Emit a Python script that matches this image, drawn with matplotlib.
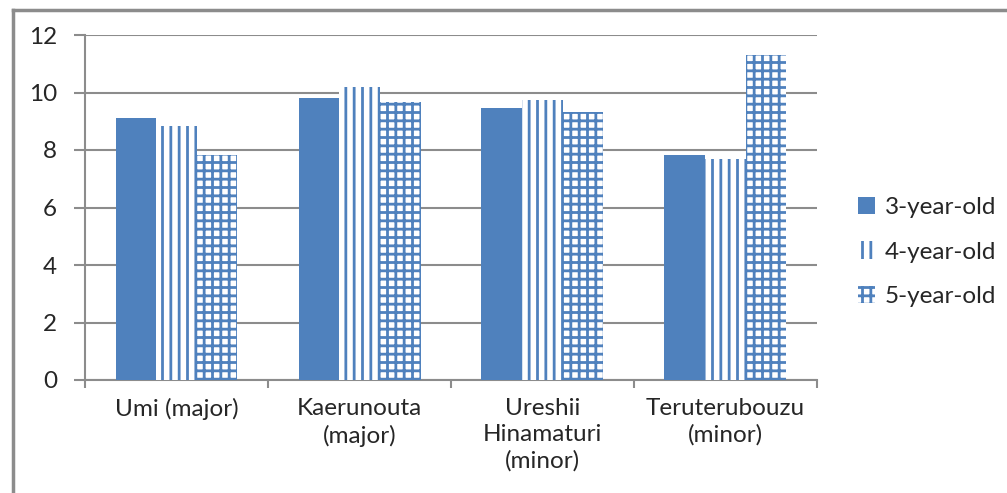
import numpy as np
import matplotlib.pyplot as plt
from matplotlib.lines import Line2D

plt.rcParams['font.family'] = ['Lato', 'DejaVu Sans']
plt.rcParams['hatch.linewidth'] = 2.0

categories = ['Umi (major)', 'Kaerunouta\n(major)', 'Ureshii\nHinamaturi\n(minor)', 'Teruterubouzu\n(minor)']
series = ['3-year-old', '4-year-old', '5-year-old']
age3 = [9.12, 9.80, 9.47, 7.83]
age4 = [8.82, 10.18, 9.74, 7.70]
age5 = [7.82, 9.68, 9.32, 11.30]

blue = '#4F81BD'
gray = '#8C8C8C'
txt = '#262626'
fs = 17.5

fig = plt.figure(figsize=(10.07, 4.93), dpi=100)
ax = fig.add_axes([85/1007, 1-380/493, (817-85)/1007, (380-35)/493])

x = np.arange(len(categories))
w = 1/4.5
ax.bar(x - w, age3, w, color=blue, edgecolor=blue, linewidth=0, label=series[0], zorder=3)
ax.bar(x, age4, w, color='white', edgecolor=blue, hatch='||', linewidth=0, label=series[1], zorder=3)
ax.bar(x + w, age5, w, color='white', edgecolor=blue, hatch='++', linewidth=0, label=series[2], zorder=3)

ax.set_xlim(-0.5, 3.5)
ax.set_ylim(0, 12)
ax.set_yticks(range(0, 13, 2))
ax.yaxis.grid(True, color=gray, linewidth=1.5, zorder=0)
ax.set_axisbelow(True)
for s in ['top', 'right']:
    ax.spines[s].set_visible(False)
for s in ['left', 'bottom']:
    ax.spines[s].set_color(gray)
    ax.spines[s].set_linewidth(1.5)

ax.set_xticks(np.arange(-0.5, 4.0, 1.0))
ax.set_xticklabels([])
ax.set_xticks(x, minor=True)
ax.set_xticklabels(categories, minor=True, fontsize=fs, color=txt, va='top', linespacing=1.3)
ax.tick_params(axis='x', which='major', length=6, width=1.5, color=gray, direction='out')
ax.tick_params(axis='x', which='minor', length=0, pad=13)
ax.tick_params(axis='y', length=8, width=1.5, color=gray, direction='out', labelsize=fs, labelcolor=txt, pad=12)

handles = [
    plt.Rectangle((0, 0), 1, 1, facecolor=blue, edgecolor=blue, linewidth=0),
    plt.Rectangle((0, 0), 1, 1, facecolor='white', edgecolor=blue, hatch='||', linewidth=0),
    plt.Rectangle((0, 0), 1, 1, facecolor='white', edgecolor=blue, hatch='++', linewidth=0),
]
fig.legend(handles, series, loc='center left', bbox_to_anchor=(836/1007, 1-252/493),
           frameon=False, fontsize=fs, labelcolor=txt, handlelength=0.7, handleheight=0.7,
           handletextpad=0.4, labelspacing=0.95)

# chart border (left and top only visible)
fig.add_artist(Line2D([13/1007, 13/1007], [0, 1-10/493], color=gray, linewidth=2.5, transform=fig.transFigure))
fig.add_artist(Line2D([13/1007, 1], [1-10/493, 1-10/493], color=gray, linewidth=2.5, transform=fig.transFigure))

fig.savefig('out.png', dpi=100)
